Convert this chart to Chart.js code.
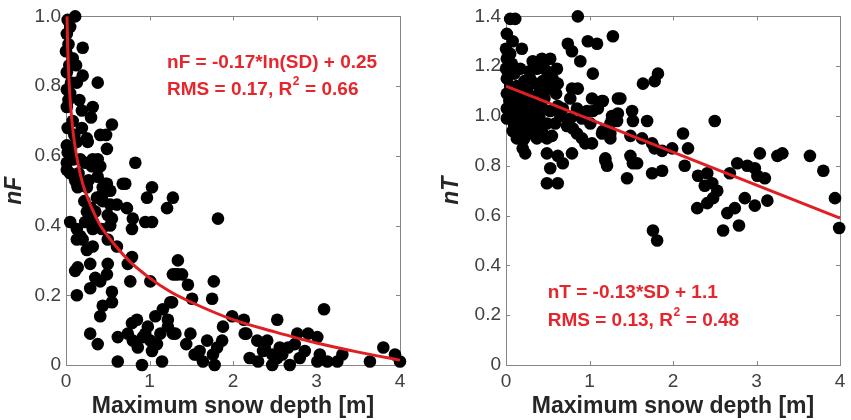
<!DOCTYPE html>
<html>
<head>
<meta charset="utf-8">
<script src="https://cdn.jsdelivr.net/npm/chart.js@4.4.1/dist/chart.umd.min.js"></script>
<style>
  html, body { margin: 0; padding: 0; background: #fff; }
  #wrap { position: relative; width: 851px; height: 420px; }
  #cF { position: absolute; left: 0; top: 0; }
  #cT { position: absolute; left: 425px; top: 0; }
</style>
</head>
<body>
<div id="wrap">
  <canvas id="cF" width="425" height="420"></canvas>
  <canvas id="cT" width="426" height="420"></canvas>
</div>
<script>
// ---- data ----
const depthTicks = [0, 1, 2, 3, 4];
const nfTicks = [0, 0.2, 0.4, 0.6, 0.8, 1];
const ntTicks = [0, 0.2, 0.4, 0.6, 0.8, 1, 1.2, 1.4];

// left panel: [max snow depth, nF]
const nfPoints = [
  [0.11,1.00],[0.02,0.99],[0.05,0.97],[0.01,0.95],[0.20,0.91],[0.00,0.90],[0.08,0.88],[0.12,0.86],
  [0.01,0.84],[0.20,0.83],[0.38,0.81],[0.13,0.81],[0.01,0.79],[0.05,0.78],[0.16,0.76],[0.32,0.74],
  [0.01,0.74],[0.19,0.73],[0.30,0.71],[0.55,0.69],[0.08,0.70],[0.02,0.68],[0.19,0.68],[0.41,0.66],
  [0.25,0.65],[0.48,0.66],[0.13,0.64],[0.26,0.64],[0.01,0.63],[0.49,0.62],[0.02,0.61],[0.17,0.59],
  [0.32,0.59],[0.38,0.59],[0.83,0.58],[0.23,0.58],[0.01,0.58],[0.37,0.57],[0.05,0.55],[0.38,0.54],
  [0.71,0.52],[0.49,0.52],[0.13,0.52],[1.03,0.51],[0.25,0.51],[0.53,0.50],[1.28,0.48],[0.97,0.48],
  [0.14,0.51],[0.44,0.51],[0.01,0.56],[0.31,0.57],[0.41,0.57],[0.11,0.53],[0.68,0.52],[0.47,0.52],
  [1.21,0.45],[0.44,0.49],[0.44,0.47],[0.53,0.46],[0.61,0.46],[0.73,0.45],[0.25,0.44],[0.35,0.44],
  [0.50,0.43],[0.55,0.42],[0.80,0.42],[0.95,0.41],[1.03,0.41],[0.05,0.41],[0.23,0.41],[0.32,0.41],
  [0.13,0.39],[0.17,0.37],[0.32,0.39],[0.43,0.39],[0.53,0.40],[0.79,0.39],[0.13,0.36],[0.20,0.36],
  [0.50,0.36],[0.61,0.34],[0.25,0.33],[0.32,0.34],[0.79,0.31],[1.34,0.30],[0.29,0.29],[0.50,0.29],
  [0.74,0.29],[0.11,0.27],[0.14,0.28],[0.49,0.26],[1.28,0.26],[1.34,0.26],[0.35,0.25],[0.41,0.24],
  [0.77,0.24],[1.01,0.24],[0.29,0.22],[0.55,0.21],[0.13,0.20],[1.25,0.18],[0.55,0.18],[0.44,0.17],
  [1.16,0.16],[1.07,0.14],[0.41,0.14],[0.85,0.13],[0.79,0.12],[1.22,0.11],[0.98,0.11],[0.95,0.09],
  [0.92,0.08],[1.01,0.07],[0.29,0.09],[0.74,0.09],[0.62,0.08],[0.80,0.07],[1.13,0.09],[1.28,0.09],
  [1.09,0.06],[0.38,0.06],[0.86,0.05],[1.03,0.04],[0.62,0.01],[0.91,0.00],[1.15,0.01],[1.27,0.18],
  [1.46,0.23],[1.39,0.26],[1.31,0.26],[1.51,0.19],[1.31,0.09],[1.22,0.13],
  [0.03,0.92],[0.04,0.86],[0.06,0.81],[0.03,0.76],[0.10,0.66],[0.06,0.62],[0.09,0.59],[0.15,0.55],
  [0.27,0.53],[0.22,0.47],[0.30,0.45],[0.37,0.48],
  [1.82,0.42],[1.77,0.24],[1.75,0.19],[1.99,0.14],[1.88,0.11],[2.13,0.13],[2.53,0.13],[3.09,0.16],
  [2.14,0.09],[2.77,0.09],[2.90,0.09],[3.01,0.08],[1.69,0.07],[1.87,0.07],[2.29,0.07],[2.41,0.07],
  [2.74,0.06],[2.56,0.05],[2.66,0.05],[3.80,0.05],[1.60,0.04],[1.76,0.03],[2.36,0.04],[2.47,0.03],
  [2.86,0.04],[3.04,0.03],[3.31,0.03],[3.94,0.03],[2.20,0.02],[2.53,0.02],[2.80,0.02],[3.13,0.01],
  [1.64,0.01],[1.78,0.00],[2.30,0.01],[2.47,0.00],[2.68,0.00],[3.01,0.01],[3.25,0.01],[3.64,0.01],
  [4.00,0.01],[2.16,0.09],[1.49,0.09],[1.44,0.06],[1.81,0.05],[1.54,0.03],[2.38,0.05],[2.59,0.03],
  [1.57,0.03]
];

// left fit curve
const nfFitX = [0.012, 0.02, 0.035, 0.05, 0.075, 0.1, 0.15, 0.2, 0.3, 0.4, 0.5, 0.75, 1, 1.25, 1.5, 2, 2.5, 3, 3.5, 4];
const nfFitY = [1.0, 0.915, 0.82, 0.76, 0.69, 0.64, 0.57, 0.52, 0.455, 0.405, 0.37, 0.30, 0.25, 0.21, 0.18, 0.13, 0.095, 0.063, 0.037, 0.014];

// right panel: [max snow depth, nT]
const ntPoints = [
  [0.05,1.39],[0.11,1.39],[0.86,1.40],[1.28,1.32],[0.98,1.30],[1.09,1.29],[0.74,1.29],[0.79,1.26],
  [0.89,1.22],[0.01,1.33],[0.08,1.30],[0.19,1.27],[0.00,1.27],[0.01,1.23],[0.00,1.19],[0.01,1.15],
  [0.32,1.22],[0.43,1.23],[0.53,1.23],[0.61,1.19],[0.37,1.19],[0.49,1.18],[0.56,1.15],[0.44,1.14],
  [0.29,1.15],[0.17,1.19],[1.04,1.17],[0.62,1.13],[0.53,1.11],[0.41,1.10],[0.79,1.11],[0.86,1.11],
  [0.77,1.07],[1.03,1.07],[1.15,1.06],[1.10,1.03],[1.04,1.02],[0.01,1.09],[0.08,1.07],[0.17,1.06],
  [0.25,1.05],[0.01,1.03],[0.08,1.02],[0.17,1.01],[0.29,1.02],[0.37,1.05],[0.44,1.03],[0.53,1.02],
  [0.62,1.04],[0.85,1.03],[0.77,0.99],[0.97,1.02],[0.91,0.99],[1.01,0.97],[1.27,0.99],[1.34,1.01],
  [0.01,0.99],[0.08,0.98],[0.17,0.97],[0.25,0.98],[0.32,0.98],[0.41,0.97],[0.49,0.97],[0.59,0.97],
  [0.73,0.96],[0.80,0.95],[1.15,0.93],[1.25,0.93],[0.08,0.94],[0.17,0.93],[0.25,0.94],[0.32,0.93],
  [0.44,0.93],[0.55,0.92],[0.85,0.93],[0.91,0.91],[0.13,0.91],[0.20,0.90],[0.37,0.91],[0.49,0.91],
  [0.95,0.89],[1.03,0.89],[0.20,0.87],[0.23,0.85],[0.49,0.85],[0.62,0.84],[0.68,0.81],[0.79,0.85],
  [1.19,0.83],[1.21,0.80],[0.53,0.79],[0.49,0.73],[0.62,0.73],[0.05,1.12],[0.13,1.12],[0.25,1.10],
  [0.35,1.13],[0.10,1.17],[0.22,1.14],[0.04,1.06],[0.13,1.03],[0.28,0.96],[0.40,1.00],[0.46,1.07],
  [0.65,1.00],[0.05,1.25],[0.07,1.21],
  [0.15,1.09],[0.30,1.08],[0.20,0.99],[0.35,1.03],[0.10,0.96],[0.28,1.18],[0.45,1.21],[0.38,0.95],
  [0.22,0.91],[0.60,1.09],[0.68,1.03],
  [1.64,1.13],[1.34,1.07],[1.45,0.75],[1.82,1.17],[1.78,1.14],[1.16,1.06],[1.37,1.07],[2.50,0.98],
  [1.27,1.00],[1.33,0.98],[1.25,0.97],[1.51,1.02],[1.52,0.98],[1.69,0.98],[1.16,0.94],[1.25,0.91],
  [1.49,0.92],[1.63,0.91],[1.75,0.89],[1.78,0.87],[1.87,0.86],[1.99,0.87],[2.12,0.93],[2.18,0.87],
  [1.19,0.82],[1.49,0.84],[1.52,0.81],[1.57,0.81],[1.75,0.77],[1.87,0.78],[2.14,0.80],[2.30,0.76],
  [2.41,0.77],[2.38,0.72],[2.47,0.73],[2.53,0.70],[2.48,0.67],[2.41,0.65],[2.29,0.63],[2.68,0.77],
  [2.77,0.81],[2.89,0.80],[2.98,0.79],[3.01,0.76],[3.10,0.75],[3.04,0.85],[3.25,0.84],[3.31,0.85],
  [2.86,0.67],[2.98,0.64],[3.13,0.66],[2.65,0.61],[2.74,0.63],[2.79,0.56],[2.60,0.54],[1.76,0.54],
  [1.81,0.50],[3.64,0.84],[3.80,0.78],[3.94,0.67],[3.99,0.55]
];

// right fit line end points
const ntFitX = [0, 4];
const ntFitY = [1.12, 0.59];

// ---- styling ----
const FONT = '"Liberation Sans", Arial, Helvetica, sans-serif';
const RED_LINE = '#df1f22';
const RED_TEXT = '#e6262c';

function toXY(pairs) {
  return pairs.map(p => ({ x: p[0], y: p[1] }));
}
function zipXY(xs, ys) {
  return xs.map((x, i) => ({ x: x, y: ys[i] }));
}

// MATLAB-like box with inward ticks, drawn under the markers
const boxPlugin = {
  id: 'box',
  beforeDatasetsDraw(chart) {
    const { ctx, chartArea: a, scales } = chart;
    const xs = scales.x, ys = scales.y;
    const len = 4;
    ctx.save();
    ctx.strokeStyle = '#858585';
    ctx.lineWidth = 1;
    ctx.strokeRect(Math.round(a.left) + 0.5, Math.round(a.top) + 0.5,
                   Math.round(a.right - a.left), Math.round(a.bottom - a.top));
    ctx.beginPath();
    xs.ticks.forEach(t => {
      const px = Math.round(xs.getPixelForValue(t.value)) + 0.5;
      ctx.moveTo(px, a.bottom); ctx.lineTo(px, a.bottom - len);
      ctx.moveTo(px, a.top); ctx.lineTo(px, a.top + len);
    });
    ys.ticks.forEach(t => {
      const py = Math.round(ys.getPixelForValue(t.value)) + 0.5;
      ctx.moveTo(a.left, py); ctx.lineTo(a.left + len, py);
      ctx.moveTo(a.right, py); ctx.lineTo(a.right - len, py);
    });
    ctx.stroke();
    ctx.restore();
  }
};

// red fit equation text, placed in data coordinates
const notePlugin = {
  id: 'note',
  afterDraw(chart, args, opts) {
    const { ctx, scales } = chart;
    const x0 = scales.x.getPixelForValue(opts.x);
    ctx.save();
    ctx.fillStyle = RED_TEXT;
    ctx.textBaseline = 'middle';
    ctx.textAlign = 'left';
    ctx.font = 'bold 19px ' + FONT;
    const y1 = scales.y.getPixelForValue(opts.y1);
    const y2 = scales.y.getPixelForValue(opts.y2);
    ctx.fillText(opts.line1, x0, y1);
    let x = x0;
    const pre = opts.rmsPre, post = opts.rmsPost;
    ctx.fillText(pre, x, y2);
    x += ctx.measureText(pre).width;
    ctx.font = 'bold 12px ' + FONT;
    ctx.fillText('2', x + 0.5, y2 - 8);
    x += ctx.measureText('2').width + 1;
    ctx.font = 'bold 19px ' + FONT;
    ctx.fillText(post, x, y2);
    ctx.restore();
  }
};

function makeChart(id, cfg) {
  const tickFont = { family: FONT, size: 19 };
  return new Chart(document.getElementById(id), {
    type: 'scatter',
    data: {
      datasets: [
        {
          data: cfg.fit,
          showLine: true,
          cubicInterpolationMode: 'monotone',
          borderColor: RED_LINE,
          borderWidth: 3,
          pointRadius: 0,
          clip: false,
          order: 0
        },
        {
          data: cfg.points,
          backgroundColor: '#000',
          borderWidth: 0,
          pointRadius: 6.3,
          pointHoverRadius: 6.3,
          clip: false,
          order: 1
        }
      ]
    },
    options: {
      responsive: false,
      animation: false,
      events: [],
      layout: { autoPadding: false, padding: { left: 0, top: 15, right: cfg.padRight, bottom: 0 } },
      plugins: {
        legend: { display: false },
        tooltip: { enabled: false },
        note: cfg.note
      },
      scales: {
        x: {
          type: 'linear', min: 0, max: 4,
          afterBuildTicks(s) { s.ticks = depthTicks.map(v => ({ value: v })); },
          ticks: { color: '#404040', font: tickFont, padding: 5, maxRotation: 0 },
          grid: { display: false, drawTicks: false },
          border: { display: false },
          title: {
            display: true, text: 'Maximum snow depth [m]', color: '#262626',
            font: { family: FONT, size: 23, weight: 'bold' }, padding: { top: 0, bottom: 0 }
          },
          afterFit(s) { s.height = 55; }
        },
        y: {
          type: 'linear', min: 0, max: cfg.yMax,
          afterBuildTicks(s) { s.ticks = cfg.yTicks.map(v => ({ value: v })); },
          ticks: { color: '#404040', font: tickFont, padding: 5 },
          grid: { display: false, drawTicks: false },
          border: { display: false },
          title: {
            display: true, text: cfg.yTitle, color: '#262626',
            font: { family: FONT, size: 23, weight: 'bold', style: 'italic' },
            padding: { top: cfg.yTitlePad, bottom: 0 }
          },
          afterFit(s) { s.width = cfg.yWidth; }
        }
      }
    },
    plugins: [boxPlugin, notePlugin]
  });
}

makeChart('cF', {
  points: toXY(nfPoints),
  fit: zipXY(nfFitX, nfFitY),
  yMax: 1, yTicks: nfTicks, yTitle: 'nF', yWidth: 66, yTitlePad: 1, padRight: 25,
  note: { x: 1.21, y1: 0.866, y2: 0.79, line1: 'nF = -0.17*ln(SD) + 0.25',
          rmsPre: 'RMS = 0.17, R', rmsPost: ' = 0.66' }
});

makeChart('cT', {
  points: toXY(ntPoints),
  fit: zipXY(ntFitX, ntFitY),
  yMax: 1.4, yTicks: ntTicks, yTitle: 'nT', yWidth: 81, yTitlePad: 13, padRight: 11,
  note: { x: 0.50, y1: 0.29, y2: 0.176, line1: 'nT = -0.13*SD + 1.1',
          rmsPre: 'RMS = 0.13, R', rmsPost: ' = 0.48' }
});
</script>
</body>
</html>
